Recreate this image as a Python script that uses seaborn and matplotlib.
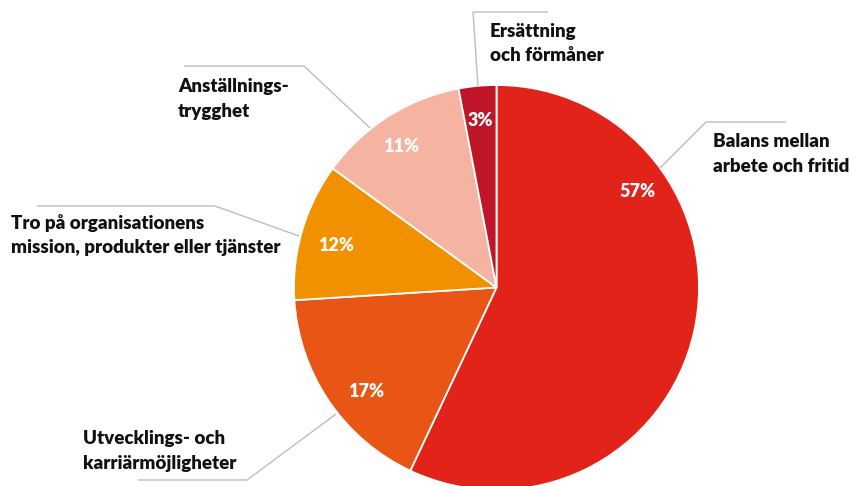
import matplotlib
matplotlib.use("Agg")
import matplotlib.pyplot as plt
import seaborn as sns

sns.set_theme(style="white")
plt.rcParams['font.family'] = ['Lato', 'DejaVu Sans']

# Data
categories = ["Balans mellan\narbete och fritid",
              "Utvecklings- och\nkarriärmöjligheter",
              "Tro på organisationens\nmission, produkter eller tjänster",
              "Anställnings-\ntrygghet",
              "Ersättning\noch förmåner"]
values = [57, 17, 11, 12, 3]
pct_labels = ["57%", "17%", "12%", "11%", "3%"]
colors = ["#E2231A", "#E85514", "#F29100", "#F5B3A1", "#BE1628"]

W, H = 860, 486
fig = plt.figure(figsize=(W / 100, H / 100), dpi=100)
ax = fig.add_axes([0, 0, 1, 1])

def py(y):
    return H - y

cx, cy, R = 496.5, 287.5, 202.5
ax.pie(values, colors=colors, startangle=90, counterclock=False,
       center=(cx, py(cy)), radius=R,
       wedgeprops=dict(edgecolor="white", linewidth=1.3))
ax.set_xlim(0, W)
ax.set_ylim(0, H)
ax.set_aspect("equal")
ax.axis("off")

# percentage labels (pixel positions: center x, baseline y)
pct_pos = [(637, 197), (366, 397), (336, 251), (401, 152), (480, 126)]
for (x, y), t in zip(pct_pos, pct_labels):
    ax.text(x, py(y), t, color="white", fontsize=13, fontweight="heavy",
            ha="center", va="baseline")

# leader lines
line_col = "#BDBDBD"
leaders = [
    [(660, 168), (706, 122), (786, 122)],
    [(336, 414), (247, 480), (138, 480)],
    [(299, 236), (215, 206), (37, 206)],
    [(370, 128), (304, 66), (184, 66)],
    [(478, 86), (473, 12), (548, 12)],
]
for pts in leaders:
    ax.plot([p[0] for p in pts], [py(p[1]) for p in pts], color=line_col,
            lw=1.0, solid_capstyle="butt")

# category labels (left x, first-line baseline y)
label_pos = [(713, 147), (83, 444), (11, 229), (178, 92), (490, 37)]
for (x, y), t in zip(label_pos, categories):
    for i, line in enumerate(t.split("\n")):
        ax.text(x, py(y + i * 24.5), line, color="#111111", fontsize=13.5,
                fontweight="heavy", ha="left", va="baseline")

fig.savefig("out.png", dpi=100)
